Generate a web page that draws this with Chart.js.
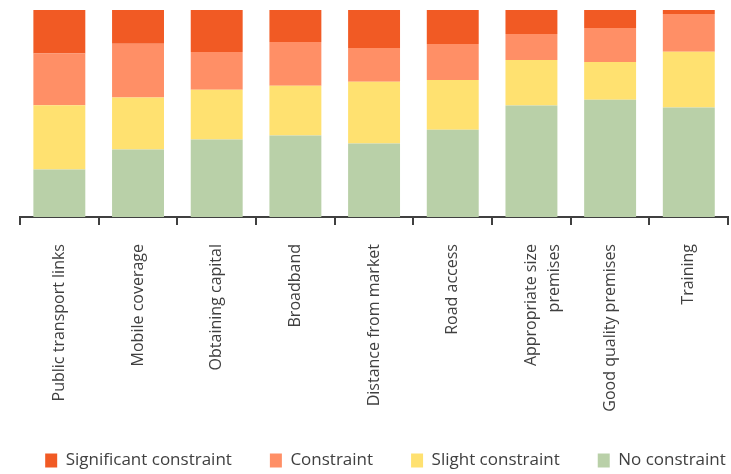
<!DOCTYPE html>
<html>
<head>
<meta charset="utf-8">
<script src="https://cdn.jsdelivr.net/npm/chart.js@4/dist/chart.umd.min.js"></script>
<style>
  html, body { margin: 0; padding: 0; background: #fff; }
  #wrap { width: 731px; height: 474px; position: relative; }
</style>
</head>
<body>
<div id="wrap"><canvas id="c"></canvas></div>
<script>
// Categories (x-axis labels)
const categories = [
  'Public transport links',
  'Mobile coverage',
  'Obtaining capital',
  'Broadband',
  'Distance from market',
  'Road access',
  ['Appropriate size', 'premises'],
  'Good quality premises',
  'Training'
];

// Share of respondents (%) per constraint level
const noConstraint          = [23.0, 32.6, 37.4, 39.4, 35.5, 42.2, 53.9, 56.7, 52.9];
const slightConstraint      = [31.0, 25.1, 24.1, 24.0, 29.8, 24.0, 22.0, 18.2, 26.9];
const constraint            = [25.0, 26.0, 18.2, 21.2, 16.4, 17.4, 12.5, 16.4, 18.3];
const significantConstraint = [21.0, 16.3, 20.3, 15.4, 18.3, 16.4, 11.6,  8.7,  1.9];

const seriesNames = ['No constraint', 'Slight constraint', 'Constraint', 'Significant constraint'];
const seriesColors = ['#B9D0A8', '#FFE170', '#FF8F66', '#F15A24'];
const seriesValues = [noConstraint, slightConstraint, constraint, significantConstraint];

const axisColor = '#404040';
const textColor = '#404040';
const plotBottom = 217;   // pixel row of the category axis
const plotLeft = 20;      // width reserved left of the plot
const padBottom = -5;
const padRight = -40;     // lets the legend row spread wider than the plot

new Chart(document.getElementById('c'), {
  type: 'bar',
  data: {
    labels: categories,
    datasets: seriesValues.map((vals, i) => ({
      label: seriesNames[i],
      data: vals,
      backgroundColor: seriesColors[i],
      borderWidth: 0,
      categoryPercentage: 1,
      barPercentage: 0.66
    }))
  },
  options: {
    responsive: true,
    maintainAspectRatio: false,
    animation: false,
    layout: { padding: { top: 10, left: 0, right: padRight, bottom: padBottom } },
    plugins: {
      tooltip: { enabled: false },
      legend: {
        position: 'bottom',
        reverse: true,
        labels: {
          boxWidth: 12,
          boxHeight: 14,
          padding: 38,
          color: textColor,
          font: { family: 'Open Sans', size: 17 }
        }
      }
    },
    scales: {
      x: {
        stacked: true,
        border: { display: true, color: axisColor, width: 2 },
        grid: {
          display: true,
          offset: true,
          drawOnChartArea: false,
          drawTicks: true,
          tickLength: 8,
          color: axisColor,
          lineWidth: 2
        },
        ticks: {
          minRotation: 90,
          maxRotation: 90,
          autoSkip: false,
          padding: 19,
          color: textColor,
          font: { family: 'Open Sans', size: 16, lineHeight: 1.45 }
        },
        afterFit: (scale) => {
          const legendH = scale.chart.legend ? scale.chart.legend.height : 0;
          scale.height = scale.chart.height - padBottom - plotBottom - legendH;
        }
      },
      y: {
        stacked: true,
        display: true,
        min: 0,
        max: 100,
        border: { display: false },
        grid: { display: false },
        ticks: { display: false },
        afterFit: (scale) => { scale.width = plotLeft; }
      }
    }
  }
});
</script>
</body>
</html>
